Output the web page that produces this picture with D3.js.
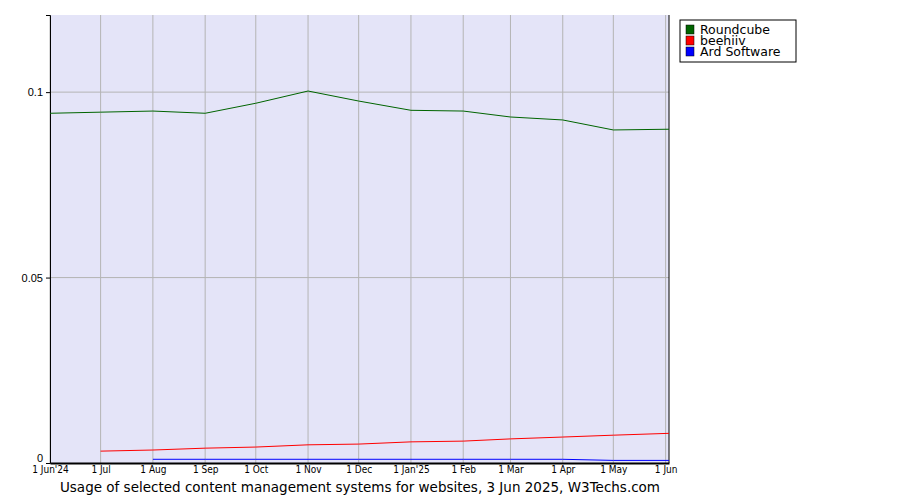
<!DOCTYPE html>
<html><head><meta charset="utf-8">
<script src="https://cdn.jsdelivr.net/npm/d3@7"></script>
<style>body{margin:0;background:#fff;font-family:"DejaVu Sans",sans-serif}</style>
</head><body><div id="chart"></div>
<script>
// Data
var dates = ["2024-06-01","2024-07-01","2024-08-01","2024-09-01","2024-10-01","2024-11-01","2024-12-01",
             "2025-01-01","2025-02-01","2025-03-01","2025-04-01","2025-05-01","2025-06-03"];
var tickLabels = ["1 Jun'24","1 Jul","1 Aug","1 Sep","1 Oct","1 Nov","1 Dec","1 Jan'25","1 Feb","1 Mar","1 Apr","1 May","1 Jun"];
var roundcube = [0.0943,0.0946,0.0949,0.0943,0.097,0.1003,0.0976,0.0951,0.0949,0.0933,0.0925,0.0898,0.09];
var beehiiv = [null,0.0032,0.0035,0.004,0.0043,0.0049,0.0051,0.0057,0.0059,0.0065,0.007,0.0075,0.008];
var ard = [null,null,0.001,0.001,0.001,0.001,0.001,0.001,0.001,0.001,0.001,0.0007,0.0007];
var seriesNames = ["Roundcube","beehiiv","Ard Software"];
var seriesColors = ["#006400","#ff0000","#0000ff"];

var margin = {top: 15, right: 231, bottom: 37, left: 50},
    width = 900 - margin.left - margin.right,
    height = 500 - margin.top - margin.bottom;

var svg = d3.select("#chart").append("svg").attr("width", 900).attr("height", 500);
var g = svg.append("g").attr("transform", "translate(" + margin.left + "," + margin.top + ")");

var parse = d3.timeParse("%Y-%m-%d");
var dts = dates.map(parse);
var x = d3.scaleTime().domain([dts[0], dts[dts.length - 1]]).range([0, width]);
var y = d3.scaleLinear().domain([0, 0.1208]).range([height, 0]);

g.append("rect").attr("width", width).attr("height", height).style("fill", "#e4e4f8");

var tickDates = tickLabels.map(function(d, i) { return i < 12 ? dts[i] : parse("2025-06-01"); });

// grid
g.selectAll(".vg").data(tickDates).enter().append("line")
  .attr("x1", function(d){return x(d);}).attr("x2", function(d){return x(d);})
  .attr("y1", 0).attr("y2", height).style("stroke", "#b4b4b4");
g.selectAll(".hg").data([0.05, 0.1]).enter().append("line")
  .attr("x1", 0).attr("x2", width).attr("y1", function(d){return y(d);}).attr("y2", function(d){return y(d);})
  .style("stroke", "#b4b4b4");

// axes
g.append("g").attr("transform", "translate(0," + height + ")")
  .call(d3.axisBottom(x).tickValues(tickDates).tickSize(0).tickPadding(3)
    .tickFormat(function(d, i){ return tickLabels[i]; }))
  .call(function(a){ a.selectAll("text").style("font-size","10px").style("font-family","DejaVu Sans Condensed, DejaVu Sans"); a.select(".domain").style("stroke","#000").style("stroke-width",2); });
g.append("g")
  .call(d3.axisLeft(y).tickValues([0, 0.05, 0.1]).tickSize(4).tickFormat(d3.format("~g")))
  .call(function(a){
    a.selectAll("text").style("font-size","11px");
    a.selectAll(".tick").filter(function(d){return d === 0;}).select("text").attr("dy", "-0.1em");
    a.select(".domain").style("stroke","#000");
  });
g.append("line").attr("x1", width).attr("x2", width).attr("y1", 0).attr("y2", height).style("stroke", "#000");

// lines
var line = d3.line().defined(function(d){return d != null;})
  .x(function(d, i){return x(dts[i]);}).y(function(d){return y(d);});
[roundcube, beehiiv, ard].forEach(function(s, k) {
  g.append("path").datum(s).attr("d", line).style("fill", "none")
    .style("stroke", seriesColors[k]).style("stroke-width", 1);
});

// legend
var lg = svg.append("g").attr("transform", "translate(680,20)");
lg.append("rect").attr("width", 116).attr("height", 42).style("fill", "#fff").style("stroke", "#000");
seriesNames.forEach(function(n, i) {
  lg.append("rect").attr("x", 6).attr("y", 5 + i * 11).attr("width", 8).attr("height", 9)
    .style("fill", seriesColors[i]).style("stroke", "#000").style("stroke-width", 0.5);
  lg.append("text").attr("x", 20).attr("y", 14 + i * 11).text(n).style("font-size", "12.5px");
});

svg.append("text").attr("x", 360).attr("y", 492).attr("text-anchor", "middle")
  .text("Usage of selected content management systems for websites, 3 Jun 2025, W3Techs.com")
  .style("font-size", "13.5px");
</script></body></html>
